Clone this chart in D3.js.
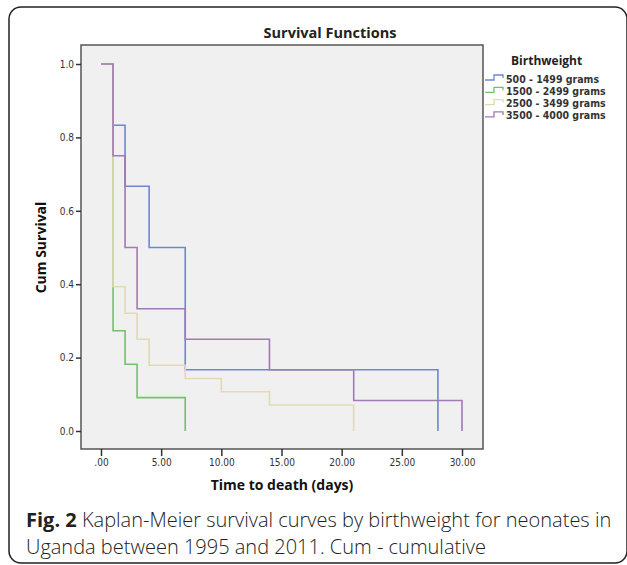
<!DOCTYPE html>
<html>
<head>
<meta charset="utf-8">
<script src="https://cdn.jsdelivr.net/npm/d3@7"></script>
<style>
  html, body { margin: 0; padding: 0; background: #fff; }
  svg { display: block; }
</style>
</head>
<body>
<svg></svg>
<script>
const width = 627;
const height = 565;

// Birthweight groups, in legend order
const groups = ["500 - 1499 grams", "1500 - 2499 grams", "2500 - 3499 grams", "3500 - 4000 grams"];
const colors = ["#6f86d3", "#72c16b", "#e2dbb0", "#a079b5"];

// Kaplan-Meier steps: time (days) where each level starts, and the survival level
const stepTimes = [
    [0, 1, 2, 4, 7, 28],
    [0, 1, 2, 3, 7],
    [0, 1, 2, 3, 4, 7, 10, 14, 21],
    [0, 1, 2, 3, 7, 14, 21, 30]
];
const survival = [
    [1.0, 0.833, 0.667, 0.5, 0.167, 0],
    [1.0, 0.273, 0.182, 0.091, 0],
    [1.0, 0.393, 0.321, 0.25, 0.179, 0.143, 0.107, 0.071, 0],
    [1.0, 0.75, 0.5, 0.333, 0.25, 0.167, 0.083, 0]
];

// Axis ticks
const xTicks = [0, 5, 10, 15, 20, 25, 30];
const xTickLabels = [".00", "5.00", "10.00", "15.00", "20.00", "25.00", "30.00"];
const yTicks = [0, 0.2, 0.4, 0.6, 0.8, 1.0];
const yTickLabels = ["0.0", "0.2", "0.4", "0.6", "0.8", "1.0"];

const svg = d3.select("svg")
    .attr("width", width)
    .attr("height", height);

// Rounded figure box
svg.append("rect")
    .attr("x", 9).attr("y", 7)
    .attr("width", 618).attr("height", 556)
    .attr("rx", 12)
    .attr("fill", "none")
    .attr("stroke", "#222")
    .attr("stroke-width", 1.5);

// Plot frame
const frame = { left: 81, right: 483, top: 45, bottom: 449 };

const x = d3.scaleLinear().domain([0, 30]).range([101, 462]);
const y = d3.scaleLinear().domain([0, 1]).range([431, 64]);

svg.append("rect")
    .attr("x", frame.left).attr("y", frame.top)
    .attr("width", frame.right - frame.left)
    .attr("height", frame.bottom - frame.top)
    .attr("fill", "#f0f0f0")
    .attr("stroke", "#555")
    .attr("stroke-width", 1.5);

// Title
svg.append("text")
    .attr("x", 330).attr("y", 38)
    .attr("text-anchor", "middle")
    .attr("font-family", "Open Sans, sans-serif")
    .attr("font-size", "14.5px")
    .attr("font-weight", "bold")
    .attr("fill", "#222")
    .text("Survival Functions");

// Y axis
const yAxis = d3.axisLeft(y)
    .tickValues(yTicks)
    .tickSize(5)
    .tickPadding(2)
    .tickFormat((d, i) => yTickLabels[i]);

const gy = svg.append("g")
    .attr("transform", `translate(${frame.left},0)`)
    .call(yAxis);
gy.select(".domain").remove();
gy.selectAll(".tick line").attr("stroke", "#333").attr("stroke-width", 1.5);
gy.selectAll(".tick text")
    .attr("font-family", "DejaVu Sans Condensed, sans-serif")
    .attr("font-size", "10px")
    .attr("fill", "#333");

// X axis
const xAxis = d3.axisBottom(x)
    .tickValues(xTicks)
    .tickSize(7)
    .tickPadding(3)
    .tickFormat((d, i) => xTickLabels[i]);

const gx = svg.append("g")
    .attr("transform", `translate(0,${frame.bottom})`)
    .call(xAxis);
gx.select(".domain").remove();
gx.selectAll(".tick line").attr("stroke", "#333").attr("stroke-width", 1.5);
gx.selectAll(".tick text")
    .attr("font-family", "DejaVu Sans Condensed, sans-serif")
    .attr("font-size", "10px")
    .attr("fill", "#333");

// Axis titles
svg.append("text")
    .attr("x", 282).attr("y", 490)
    .attr("text-anchor", "middle")
    .attr("font-family", "Open Sans, sans-serif")
    .attr("font-size", "14px")
    .attr("font-weight", "bold")
    .attr("fill", "#111")
    .text("Time to death (days)");

svg.append("text")
    .attr("transform", `translate(46,${(y(0) + y(1)) / 2}) rotate(-90)`)
    .attr("text-anchor", "middle")
    .attr("font-family", "Open Sans, sans-serif")
    .attr("font-size", "14px")
    .attr("font-weight", "bold")
    .attr("fill", "#111")
    .text("Cum Survival");

// Survival curves, drawn as step functions
const line = d3.line()
    .x(d => x(d[0]))
    .y(d => y(d[1]))
    .curve(d3.curveStepAfter);

groups.forEach((g, i) => {
    const pts = stepTimes[i].map((t, j) => [t, survival[i][j]]);
    svg.append("path")
        .datum(pts)
        .attr("d", line)
        .attr("fill", "none")
        .attr("stroke", colors[i])
        .attr("stroke-width", 1.6);
});

// Legend
svg.append("text")
    .attr("x", 511).attr("y", 65)
    .attr("font-family", "Open Sans, sans-serif")
    .attr("font-size", "12px")
    .attr("font-weight", "bold")
    .attr("fill", "#222")
    .text("Birthweight");

groups.forEach((g, i) => {
    const ly = 79 + i * 12.3;
    svg.append("path")
        .attr("d", `M485,${ly + 1} H494 V${ly - 4} H503 V${ly - 1}`)
        .attr("fill", "none")
        .attr("stroke", colors[i])
        .attr("stroke-width", 1.3);
    svg.append("text")
        .attr("x", 506).attr("y", ly + 3.5)
        .attr("font-family", "DejaVu Sans Condensed, sans-serif")
        .attr("font-size", "10.5px")
        .attr("font-weight", "bold")
        .attr("fill", "#333")
        .text(g);
});

// Caption
const caption = svg.append("g")
    .attr("font-family", "Open Sans, sans-serif")
    .attr("font-size", "20px")
    .attr("fill", "#222");

const line1 = caption.append("text").attr("x", 26).attr("y", 527);
line1.append("tspan").attr("font-weight", "bold").text("Fig. 2");
line1.append("tspan").attr("font-weight", "300").text(" Kaplan-Meier survival curves by birthweight for neonates in");

caption.append("text")
    .attr("x", 26).attr("y", 554)
    .attr("font-weight", "300")
    .text("Uganda between 1995 and 2011. Cum - cumulative");
</script>
</body>
</html>
